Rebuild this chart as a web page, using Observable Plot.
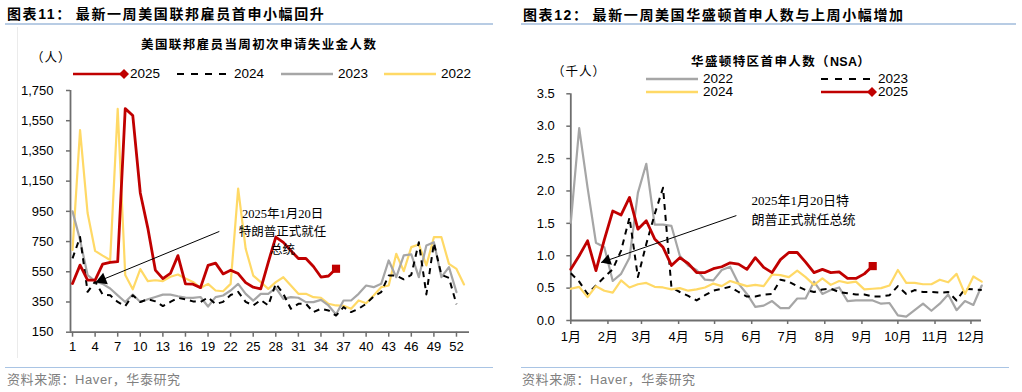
<!DOCTYPE html>
<html><head><meta charset="utf-8">
<script src="https://cdn.jsdelivr.net/npm/d3@7"></script>
<script src="https://cdn.jsdelivr.net/npm/@observablehq/plot@0.6"></script>
<style>
html,body{margin:0;padding:0;background:#fff}
body{width:1022px;height:392px;position:relative;overflow:hidden;font-family:"Liberation Sans","Noto Sans CJK SC",sans-serif;color:#000}
.a{position:absolute;white-space:nowrap}
.title{font-size:14px;font-weight:bold;line-height:16px;letter-spacing:1.6px}
.sub{font-size:12.5px;font-weight:bold;line-height:14px;letter-spacing:1.4px}
.unit{font-size:12.5px;line-height:14px;letter-spacing:1px}
.src{font-size:13px;line-height:14px;color:#808080;letter-spacing:0.6px}
.leg{font-size:13.5px;line-height:14px;display:flex;align-items:center}
.leg svg{display:block}
</style></head><body>
<script>
// ---------- Left chart: 美国联邦雇员当周初次申请失业金人数 (weekly, 人) ----------
const fedWeekTicks = [1,4,7,10,13,16,19,22,25,28,31,34,37,40,43,46,49,52];
const fedYTicks = [150,350,550,750,950,1150,1350,1550,1750];
const fed2022 = [694,1488,939,688,657,628,1628,528,434,568,488,494,488,517,532,505,483,443,470,426,421,470,1100,702,525,481,437,481,514,459,404,404,382,378,338,327,325,305,360,342,393,448,459,669,554,713,731,592,779,779,602,569,466];
const fed2023 = [950,761,528,488,470,439,394,350,399,350,368,383,399,399,388,379,377,383,320,382,393,426,470,404,359,404,404,443,371,382,378,349,349,364,327,267,360,360,404,459,448,470,625,514,658,665,514,724,746,514,581,415];
const fed2024 = [639,780,417,485,400,394,350,323,394,350,368,354,323,350,377,368,354,350,380,336,351,396,417,351,327,363,327,472,404,305,338,338,283,305,294,260,316,283,305,338,387,415,525,525,500,530,745,400,740,530,510,335];
const fed2025 = [472,594,495,495,600,612,617,1630,1585,1072,839,561,505,539,657,470,468,445,592,607,536,560,538,478,448,437,613,780,745,690,638,638,585,515,522,570];

// ---------- Right chart: 华盛顿特区首申人数 (NSA, 千人), weekly from 1月 ----------
const dcMonthDays = [0,31,59,90,120,151,181,212,243,273,304,334];
const dcMonthLabels = ["1月","2月","3月","4月","5月","6月","7月","8月","9月","10月","11月","12月"];
const dcYTicks = [0,0.5,1,1.5,2,2.5,3,3.5];
const dc2022 = [1.51,2.97,2.05,1.20,1.13,0.61,0.72,0.97,1.97,2.42,1.48,1.48,1.46,1.00,0.85,0.78,0.63,0.62,0.78,0.83,0.57,0.41,0.21,0.23,0.30,0.19,0.19,0.34,0.34,0.60,0.41,0.47,0.51,0.30,0.31,0.31,0.31,0.26,0.27,0.08,0.06,0.16,0.26,0.15,0.26,0.40,0.16,0.30,0.24,0.54];
const dc2023 = [0.73,0.60,0.41,0.54,0.67,0.79,1.08,1.59,0.67,1.18,1.64,2.05,0.51,0.44,0.38,0.31,0.39,0.46,0.49,0.52,0.44,0.37,0.37,0.40,0.41,0.63,0.60,0.53,0.47,0.44,0.48,0.49,0.44,0.42,0.40,0.40,0.37,0.37,0.39,0.53,0.41,0.47,0.44,0.44,0.43,0.44,0.31,0.49,0.48,0.47];
const dc2024 = [0.49,0.52,0.36,0.53,0.46,0.43,0.62,0.51,0.56,0.58,0.52,0.51,0.48,0.50,0.46,0.48,0.51,0.57,0.53,0.61,0.57,0.53,0.55,0.53,0.71,0.70,0.67,0.77,0.67,0.55,0.65,0.55,0.61,0.58,0.60,0.48,0.49,0.50,0.54,0.78,0.58,0.58,0.56,0.56,0.63,0.59,0.72,0.41,0.68,0.60];
const dc2025 = [0.79,1.00,1.23,0.77,1.25,1.69,1.63,1.90,1.41,1.54,1.26,1.13,0.85,0.97,0.88,0.74,0.74,0.80,0.83,0.89,0.87,0.79,0.97,0.82,0.74,0.94,1.05,1.05,0.90,0.74,0.79,0.74,0.75,0.65,0.65,0.72,0.84];

// ---------- styles ----------
const C = {red:"#C00000", gold:"#FFD966", gray:"#A6A6A6", black:"#000000", axis:"#6E6E6E"};
const leftSeries = [
  {name:"2022", values:fed2022, stroke:C.gold, w:2.2},
  {name:"2023", values:fed2023, stroke:C.gray, w:2.2},
  {name:"2024", values:fed2024, stroke:C.black, w:2, dash:"6,5"},
  {name:"2025", values:fed2025, stroke:C.red, w:2.8, end:true}
];
const leftLegendOrder = ["2025","2024","2023","2022"];
const rightSeries = [
  {name:"2022", values:dc2022, stroke:C.gray, w:2.2},
  {name:"2023", values:dc2023, stroke:C.black, w:2, dash:"6,5"},
  {name:"2024", values:dc2024, stroke:C.gold, w:2.2},
  {name:"2025", values:dc2025, stroke:C.red, w:2.8, end:true}
];
const annText = "2025年1月20日";
const annL = {tail:[20.5,817], tip:[4.05,479], at:[28.9,823], text:annText+"\n特朗普正式就任\n总统", rot:-112, r:4.6, back:0.054};
const annR = {tail:[138.2,1.62], tip:[25.3,0.895], at:[150.8,1.736], text:annText+"特\n朗普正式就任总统", rot:-109, r:4.1, back:0.044};

function el(cls, html, x, y, extra){
  const d = document.createElement("div");
  d.className = "a " + cls; d.innerHTML = html;
  d.style.left = x+"px"; d.style.top = y+"px";
  if (extra) Object.assign(d.style, extra);
  document.body.appendChild(d); return d;
}
function hline(x1,x2,y,color,w){
  el("", "", x1, y, {width:(x2-x1)+"px", height:"0px", borderTop:w+"px solid "+color});
}
function legendItem(s, x, yc){
  const W = 56;
  let sw = `<svg width="${W}" height="12"><line x1="0" x2="${s.end?W-5:W-4}" y1="6" y2="6" stroke="${s.stroke}" stroke-width="${s.dash?2.2:2.5}" ${s.dash?'stroke-dasharray="7,7"':''}/>`;
  if (s.end) sw += `<polygon points="${W-10},6 ${W-5},1 ${W},6 ${W-5},11" fill="${s.stroke}"/>`;
  sw += `</svg>`;
  el("leg", sw + `<span style="margin-left:1px">${s.name}</span>`, x, yc-7);
}
function annotationMarks(a){
  const cx = a.tip[0] + (a.tail[0]-a.tip[0])*a.back;
  const cy = a.tip[1] + (a.tail[1]-a.tip[1])*a.back;
  return [
    Plot.link([a], {x1:d=>d.tail[0], y1:d=>d.tail[1], x2:d=>d.tip[0], y2:d=>d.tip[1], stroke:"#000", strokeWidth:1}),
    Plot.dot([{x:cx,y:cy}], {x:"x", y:"y", symbol:"triangle", r:a.r, fill:"#000", stroke:"none", rotate:a.rot}),
  ];
}
function seriesMarks(series, xOf){
  const marks = [];
  for (const s of series){
    const data = s.values.map((v,i)=>({x:xOf(i), y:v}));
    marks.push(Plot.line(data, {x:"x", y:"y", stroke:s.stroke, strokeWidth:s.w, strokeDasharray:s.dash, strokeLinecap:s.dash?"butt":"round", strokeLinejoin:"round"}));
    if (s.end) marks.push(Plot.dot([data[data.length-1]], {x:"x", y:"y", symbol:"square", r:4.6, fill:s.stroke, stroke:"none"}));
  }
  return marks;
}

// ---------- page chrome ----------
el("title", `图表11：<span style="margin-left:4px">最新一周美国联邦雇员首申小幅回升</span>`, 7, 6);
el("title", `图表12：<span style="margin-left:4px">最新一周美国华盛顿首申人数与上周小幅增加</span>`, 523, 7);
hline(5, 493, 23, "#B8CCE4", 2);
hline(521, 1016, 23, "#B8CCE4", 2);
hline(5, 493, 367, "#A9C4E4", 1);
hline(521, 1009, 367, "#A9C4E4", 1);
el("", "", 17, 27, {width:"0px", height:"331px", borderLeft:"1px solid #EBEBEB"});
el("src", "资料来源：Haver，华泰研究", 7, 373);
el("src", "资料来源：Haver，华泰研究", 522, 373);
el("sub", "美国联邦雇员当周初次申请失业金人数", 141, 38);
el("sub", `华盛顿特区首申人数（<span style="letter-spacing:0.3px">NSA</span>）`, 691, 55);
el("unit", "（人）", 31, 51);
el("unit", "（千人）", 552, 65);

// legends
const lx = {"2025":73, "2024":177, "2023":281, "2022":384};
for (const n of leftLegendOrder) legendItem(leftSeries.find(s=>s.name===n), lx[n], 74);
const rpos = {"2022":[646,79], "2023":[821,79], "2024":[646,92], "2025":[821,92]};
for (const s of rightSeries) legendItem(s, rpos[s.name][0], rpos[s.name][1]);

// ---------- left plot ----------
const xL = [0.73, 53.73];
const left = Plot.plot({
  width:500, height:275, marginLeft:70, marginRight:31, marginTop:5, marginBottom:28.3,
  x:{type:"linear", domain:xL, label:null},
  y:{domain:[150,1750], label:null},
  style:{fontFamily:"'Liberation Sans', Arial, sans-serif", fontSize:"13px", color:"#000", background:"transparent", overflow:"visible"},
  marks:[
    Plot.axisY({ticks:fedYTicks, tickFormat:d3.format(","), tickSize:4, tickPadding:13, stroke:C.axis, strokeWidth:1.5, label:null}),
    Plot.axisX({ticks:fedWeekTicks, tickFormat:d=>String(d), tickSize:5, tickPadding:5, stroke:C.axis, strokeWidth:1.5, label:null}),
    Plot.ruleX([xL[0]], {stroke:C.axis, strokeWidth:1.8}),
    Plot.ruleY([150], {stroke:C.axis, strokeWidth:1.8}),
    ...seriesMarks(leftSeries, i=>i+1),
    ...annotationMarks(annL),
    Plot.text([annL], {x:d=>d.at[0], y:d=>d.at[1], text:d=>d.text, fontSize:12.5, lineHeight:1.42, textAnchor:"middle", fontFamily:"'Liberation Serif','Noto Sans CJK SC',serif", fill:"#000"})
  ]
});
left.style.position = "absolute"; left.style.left = "0px"; left.style.top = "85px";
document.body.appendChild(left);

// ---------- right plot ----------
const xR = [0, 342.8];
const right = Plot.plot({
  width:480, height:265, marginLeft:59.3, marginRight:10, marginTop:8.3, marginBottom:30,
  x:{type:"linear", domain:xR, label:null},
  y:{domain:[0,3.5], label:null},
  style:{fontFamily:"'Liberation Sans','Noto Sans CJK SC', Arial, sans-serif", fontSize:"13px", color:"#000", background:"transparent", overflow:"visible"},
  marks:[
    Plot.axisY({ticks:dcYTicks, tickFormat:d3.format(".1f"), tickSize:4, tickPadding:12, stroke:C.axis, strokeWidth:1.5, label:null}),
    Plot.axisX({ticks:dcMonthDays, tickFormat:d=>dcMonthLabels[dcMonthDays.indexOf(d)], tickSize:4, tickPadding:7, stroke:C.axis, strokeWidth:1.5, label:null}),
    Plot.ruleX([xR[0]], {stroke:C.axis, strokeWidth:1.8}),
    Plot.ruleY([0], {stroke:C.axis, strokeWidth:1.8}),
    ...seriesMarks(rightSeries, i=>i*7),
    ...annotationMarks(annR),
    Plot.text([annR], {x:d=>d.at[0], y:d=>d.at[1], text:d=>d.text, fontSize:13, lineHeight:1.46, textAnchor:"start", fontFamily:"'Liberation Serif','Noto Sans CJK SC',serif", fill:"#000"})
  ]
});
right.style.position = "absolute"; right.style.left = "511px"; right.style.top = "85px";
document.body.appendChild(right);
</script>
</body></html>
